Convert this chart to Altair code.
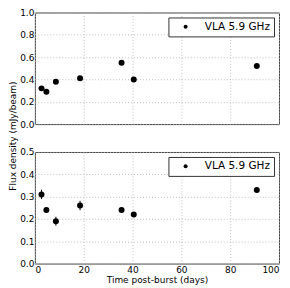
import altair as alt
import pandas as pd

days = [2.7, 4.7, 8.6, 18.5, 35.5, 40.5, 90.9]
flux_top = [0.32, 0.29, 0.38, 0.41, 0.55, 0.40, 0.52]
err_top = [0.01, 0.01, 0.01, 0.01, 0.01, 0.01, 0.01]
flux_bot = [0.31, 0.24, 0.19, 0.26, 0.24, 0.22, 0.33]
err_bot = [0.021, 0.01, 0.02, 0.021, 0.01, 0.01, 0.01]
series = "VLA 5.9 GHz"
x_ticks = [0, 20, 40, 60, 80, 100]
y_ticks_top = [0.0, 0.2, 0.4, 0.6, 0.8, 1.0]
y_ticks_bot = [0.0, 0.1, 0.2, 0.3, 0.4, 0.5]
y_title = "Flux density (mJy/beam)"
x_title = "Time post-burst (days)"

def frame(vals, errs):
    return pd.DataFrame({
        "t": days, "f": vals,
        "lo": [v - e for v, e in zip(vals, errs)],
        "hi": [v + e for v, e in zip(vals, errs)],
        "s": [series] * len(days),
    })

FONT = "DejaVu Sans"
W, H, GAP = 245, 112, 24

def panel(df, ydom, yticks, show_x):
    xargs = dict(values=x_ticks, labels=show_x, ticks=False, domain=False,
                 gridColor="#b0b0b0", gridDash=[1, 2], gridWidth=0.8,
                 labelFont=FONT, labelFontSize=9, labelColor="black", labelPadding=2,
                 labelOverlap=False)
    if show_x:
        xargs.update(title=x_title, titleFont=FONT, titleFontSize=9,
                     titleFontWeight="normal", titleColor="black", titlePadding=1)
    else:
        xargs.update(title=None)
    xax = alt.Axis(**xargs)
    yax = alt.Axis(values=yticks, format=".1f", ticks=False, domain=False, title=None,
                   gridColor="#b0b0b0", gridDash=[1, 2], gridWidth=0.8,
                   labelFont=FONT, labelFontSize=9, labelColor="black", labelPadding=1,
                   labelOverlap=False)
    xsc = alt.Scale(domain=[0, 100], nice=False)
    ysc = alt.Scale(domain=ydom, nice=False)
    base = alt.Chart(df)
    err = base.mark_rule(color="black", strokeWidth=1).encode(
        x=alt.X("t:Q", scale=xsc, axis=xax),
        y=alt.Y("lo:Q", scale=ysc, axis=yax), y2="hi:Q")
    pts = base.mark_circle(size=36, opacity=1).encode(
        x=alt.X("t:Q", scale=xsc, axis=xax),
        y=alt.Y("f:Q", scale=ysc, axis=yax),
        color=alt.Color("s:N", scale=alt.Scale(range=["black"]),
                        legend=alt.Legend(title=None, orient="top-right", offset=5,
                                          strokeColor="#333", fillColor="white",
                                          padding=4, symbolSize=16, symbolType="circle",
                                          labelFont=FONT, labelFontSize=10.5,
                                          labelColor="black", symbolOffset=8,
                                          labelOffset=14)))
    return alt.layer(pts, err).properties(width=W, height=H)

top = panel(frame(flux_top, err_top), [0, 1], y_ticks_top, False)
bot = panel(frame(flux_bot, err_bot), [0, 0.5], y_ticks_bot, True)
plots = alt.vconcat(top, bot, spacing=GAP - 7).resolve_scale(color="independent")

ylab = alt.Chart(pd.DataFrame({"txt": [y_title]})).mark_text(
    angle=270, font=FONT, fontSize=9, color="black", align="center", baseline="middle"
).encode(text="txt:N", x=alt.value(4), y=alt.value(H + GAP / 2)).properties(
    width=7, height=2 * H + GAP, view=alt.ViewBackground(stroke="transparent"))

chart = alt.hconcat(ylab, plots, spacing=0).configure_view(
    stroke="#444", strokeWidth=1).properties(
    padding={"left": 0, "top": -1, "right": 2, "bottom": 0})

chart.save("out.html", embed_options={"renderer": "svg", "actions": False})
